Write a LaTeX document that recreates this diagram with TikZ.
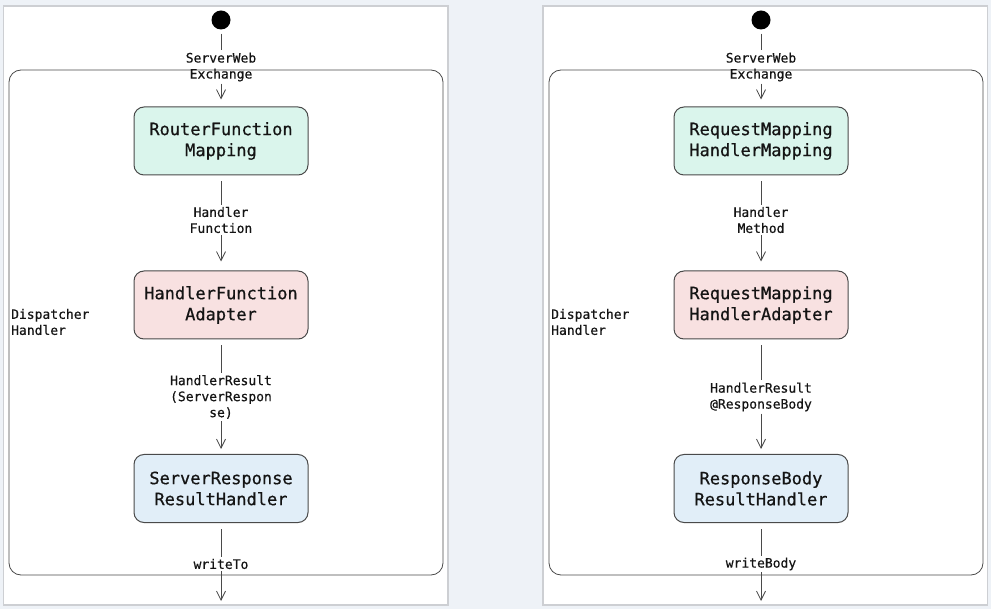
\documentclass[tikz,border=0pt]{standalone}
\usepackage{fontspec}
\setmonofont{DejaVu Sans Mono}
\newfontfamily\statefont{DejaVu Sans Mono}[FakeBold=0.6]
\newfontfamily\flowfont{DejaVu Sans Mono}[FakeBold=0.4]
\usepackage{tikz}
\usetikzlibrary{arrows.meta}
\definecolor{bgc}{HTML}{EEF2F7}
\definecolor{panelc}{HTML}{CDCFD3}
\definecolor{mapc}{HTML}{DAF5EC}
\definecolor{adapc}{HTML}{F8E1E1}
\definecolor{resc}{HTML}{E1EEF8}
\definecolor{linec}{HTML}{4A4A4A}
\definecolor{textc}{HTML}{141414}
\begin{document}
\begin{tikzpicture}[x=1pt,y=-1pt,
                    state/.style={draw=linec, line width=1pt, rounded corners=10pt, minimum width=174pt, minimum height=68pt, align=center, text=textc, font=\statefont\fontsize{17}{21}\selectfont},
                    flow/.style={align=center, inner sep=2pt, text=textc, font=\flowfont\fontsize{13}{16}\selectfont},
                    startdot/.style={circle, fill=black, minimum size=19pt, inner sep=0pt},
                    link/.style={draw=linec, line width=0.8pt},
                    arr/.style={link, -{Straight Barb[length=9pt,width=9pt,line width=0.8pt]}}]
                    \fill [bgc] (0,0) rectangle (991,609);
                    \useasboundingbox (0,0) rectangle (991,609);
                    \draw [panelc, fill=white, line width=1.2pt] (3.5,6) rectangle (448,605);
                    \draw [panelc, fill=white, line width=1.2pt] (543,6) rectangle (987.5,605);
                    \draw [linec, line width=0.8pt, rounded corners=12pt] (9,70) rectangle (443,575);
                    \draw [linec, line width=0.8pt, rounded corners=12pt] (549,70) rectangle (983,575);
                    \node [startdot] (startL) at (221,20) {};
                    \node [flow] (exchL) at (221,67) {ServerWeb\\Exchange};
                    \node [state, fill=mapc] (mapL) at (221,141) {RouterFunction\\Mapping};
                    \node [flow] (handL) at (221,220) {Handler\\Function};
                    \node [state, fill=adapc] (adapL) at (221,305) {HandlerFunction\\Adapter};
                    \node [flow] (resultL) at (221,397) {HandlerResult\\(ServerRespon\\se)};
                    \node [state, fill=resc] (resL) at (221,488.5) {ServerResponse\\ResultHandler};
                    \node [flow] (writeL) at (221,564) {writeTo};
                    \coordinate (endL) at (221,601);
                    \node [flow, align=left, inner sep=0pt, anchor=west] (dispL) at (11,322) {Dispatcher\\Handler};
                    \draw [link, shorten <=4pt] (startL) -- (exchL);
                    \draw [arr, shorten >=7pt] (exchL) -- (mapL);
                    \draw [link, shorten <=6pt] (mapL) -- (handL);
                    \draw [arr, shorten >=9pt] (handL) -- (adapL);
                    \draw [link, shorten <=6pt] (adapL) -- (resultL);
                    \draw [arr, shorten >=5pt] (resultL) -- (resL);
                    \draw [link, shorten <=6pt] (resL) -- (writeL);
                    \draw [arr] (writeL) -- (endL);
                    \node [startdot] (startR) at (761,20) {};
                    \node [flow] (exchR) at (761,67) {ServerWeb\\Exchange};
                    \node [state, fill=mapc] (mapR) at (761,141) {RequestMapping\\HandlerMapping};
                    \node [flow] (handR) at (761,220) {Handler\\Method};
                    \node [state, fill=adapc] (adapR) at (761,305) {RequestMapping\\HandlerAdapter};
                    \node [flow] (resultR) at (761,397) {HandlerResult\\@ResponseBody};
                    \node [state, fill=resc] (resR) at (761,488.5) {ResponseBody\\ResultHandler};
                    \node [flow] (writeR) at (761,564) {writeBody};
                    \coordinate (endR) at (761,601);
                    \node [flow, align=left, inner sep=0pt, anchor=west] (dispR) at (551,322) {Dispatcher\\Handler};
                    \draw [link, shorten <=4pt] (startR) -- (exchR);
                    \draw [arr, shorten >=7pt] (exchR) -- (mapR);
                    \draw [link, shorten <=6pt] (mapR) -- (handR);
                    \draw [arr, shorten >=9pt] (handR) -- (adapR);
                    \draw [link, shorten <=6pt] (adapR) -- (resultR);
                    \draw [arr, shorten >=5pt] (resultR) -- (resR);
                    \draw [link, shorten <=6pt] (resR) -- (writeR);
                    \draw [arr] (writeR) -- (endR);
                \end{tikzpicture}
\end{document}
